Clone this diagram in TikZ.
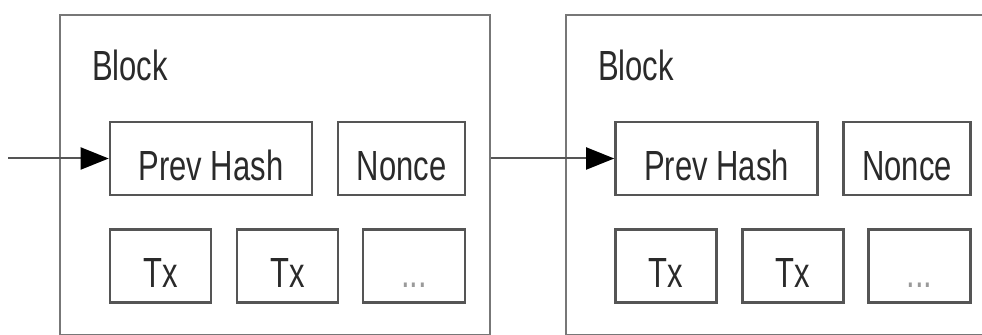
\documentclass[tikz,border=0pt]{standalone}
\usepackage{fontspec}
\setmainfont{Liberation Sans}
\usepackage{graphicx}
\usepackage{xcolor}
\usepackage{tikz}
\usetikzlibrary{arrows.meta}

\definecolor{frameline}{HTML}{777777}
\definecolor{boxline}{HTML}{555555}
\definecolor{inktext}{HTML}{2A2A2A}
\definecolor{dotgray}{HTML}{9A9A9A}

\newcommand{\tallfont}[1]{\scalebox{1}[1.36]{#1}}

\begin{document}
\begin{tikzpicture}[x=0.5pt,y=-0.5pt,
    font=\fontsize{15.5}{18}\selectfont,
    blockframe/.style={draw=frameline,line width=1pt,anchor=north west,
        minimum width=215pt,minimum height=160pt,inner sep=0pt},
    field/.style={draw=boxline,line width=1.3pt,text=inktext,inner sep=0pt,
        minimum height=36.5pt,text height=22pt,text depth=0pt},
    chain/.style={draw=boxline,line width=1pt,
        -{Triangle[length=14pt,width=11pt,color=black]}}]
    \useasboundingbox (0,0) rectangle (982,335);

    \node (blk1) [blockframe] at (59,14) {};
    \node (lbl1) [anchor=base west,text=inktext] at (85,81) {\tallfont{Block}};
    \node (prev1) [field,minimum width=101pt] at (211,158.5) {\tallfont{Prev Hash}};
    \node (nonce1) [field,minimum width=63.5pt] at (401.5,158.5) {\tallfont{Nonce}};
    \node (txa1) [field,minimum width=50.5pt] at (160.5,266) {\tallfont{Tx}};
    \node (txb1) [field,minimum width=50.5pt] at (287.5,266) {\tallfont{Tx}};
    \node (more1) [field,minimum width=51pt,text=dotgray] at (414,266) {\tallfont{...}};

    \node (blk2) [blockframe] at (565,14) {};
    \node (lbl2) [anchor=base west,text=inktext] at (591,81) {\tallfont{Block}};
    \node (prev2) [field,minimum width=101pt] at (716.5,158.5) {\tallfont{Prev Hash}};
    \node (nonce2) [field,minimum width=63.5pt] at (907,158.5) {\tallfont{Nonce}};
    \node (txa2) [field,minimum width=50.5pt] at (666,266) {\tallfont{Tx}};
    \node (txb2) [field,minimum width=50.5pt] at (793,266) {\tallfont{Tx}};
    \node (more2) [field,minimum width=51pt,text=dotgray] at (919.5,266) {\tallfont{...}};

    \coordinate (in1) at (8,158.5);
    \draw[chain] (in1) -- (prev1.west);
    \draw[chain] (blk1.east |- prev2.west) -- (prev2.west);
\end{tikzpicture}
\end{document}
